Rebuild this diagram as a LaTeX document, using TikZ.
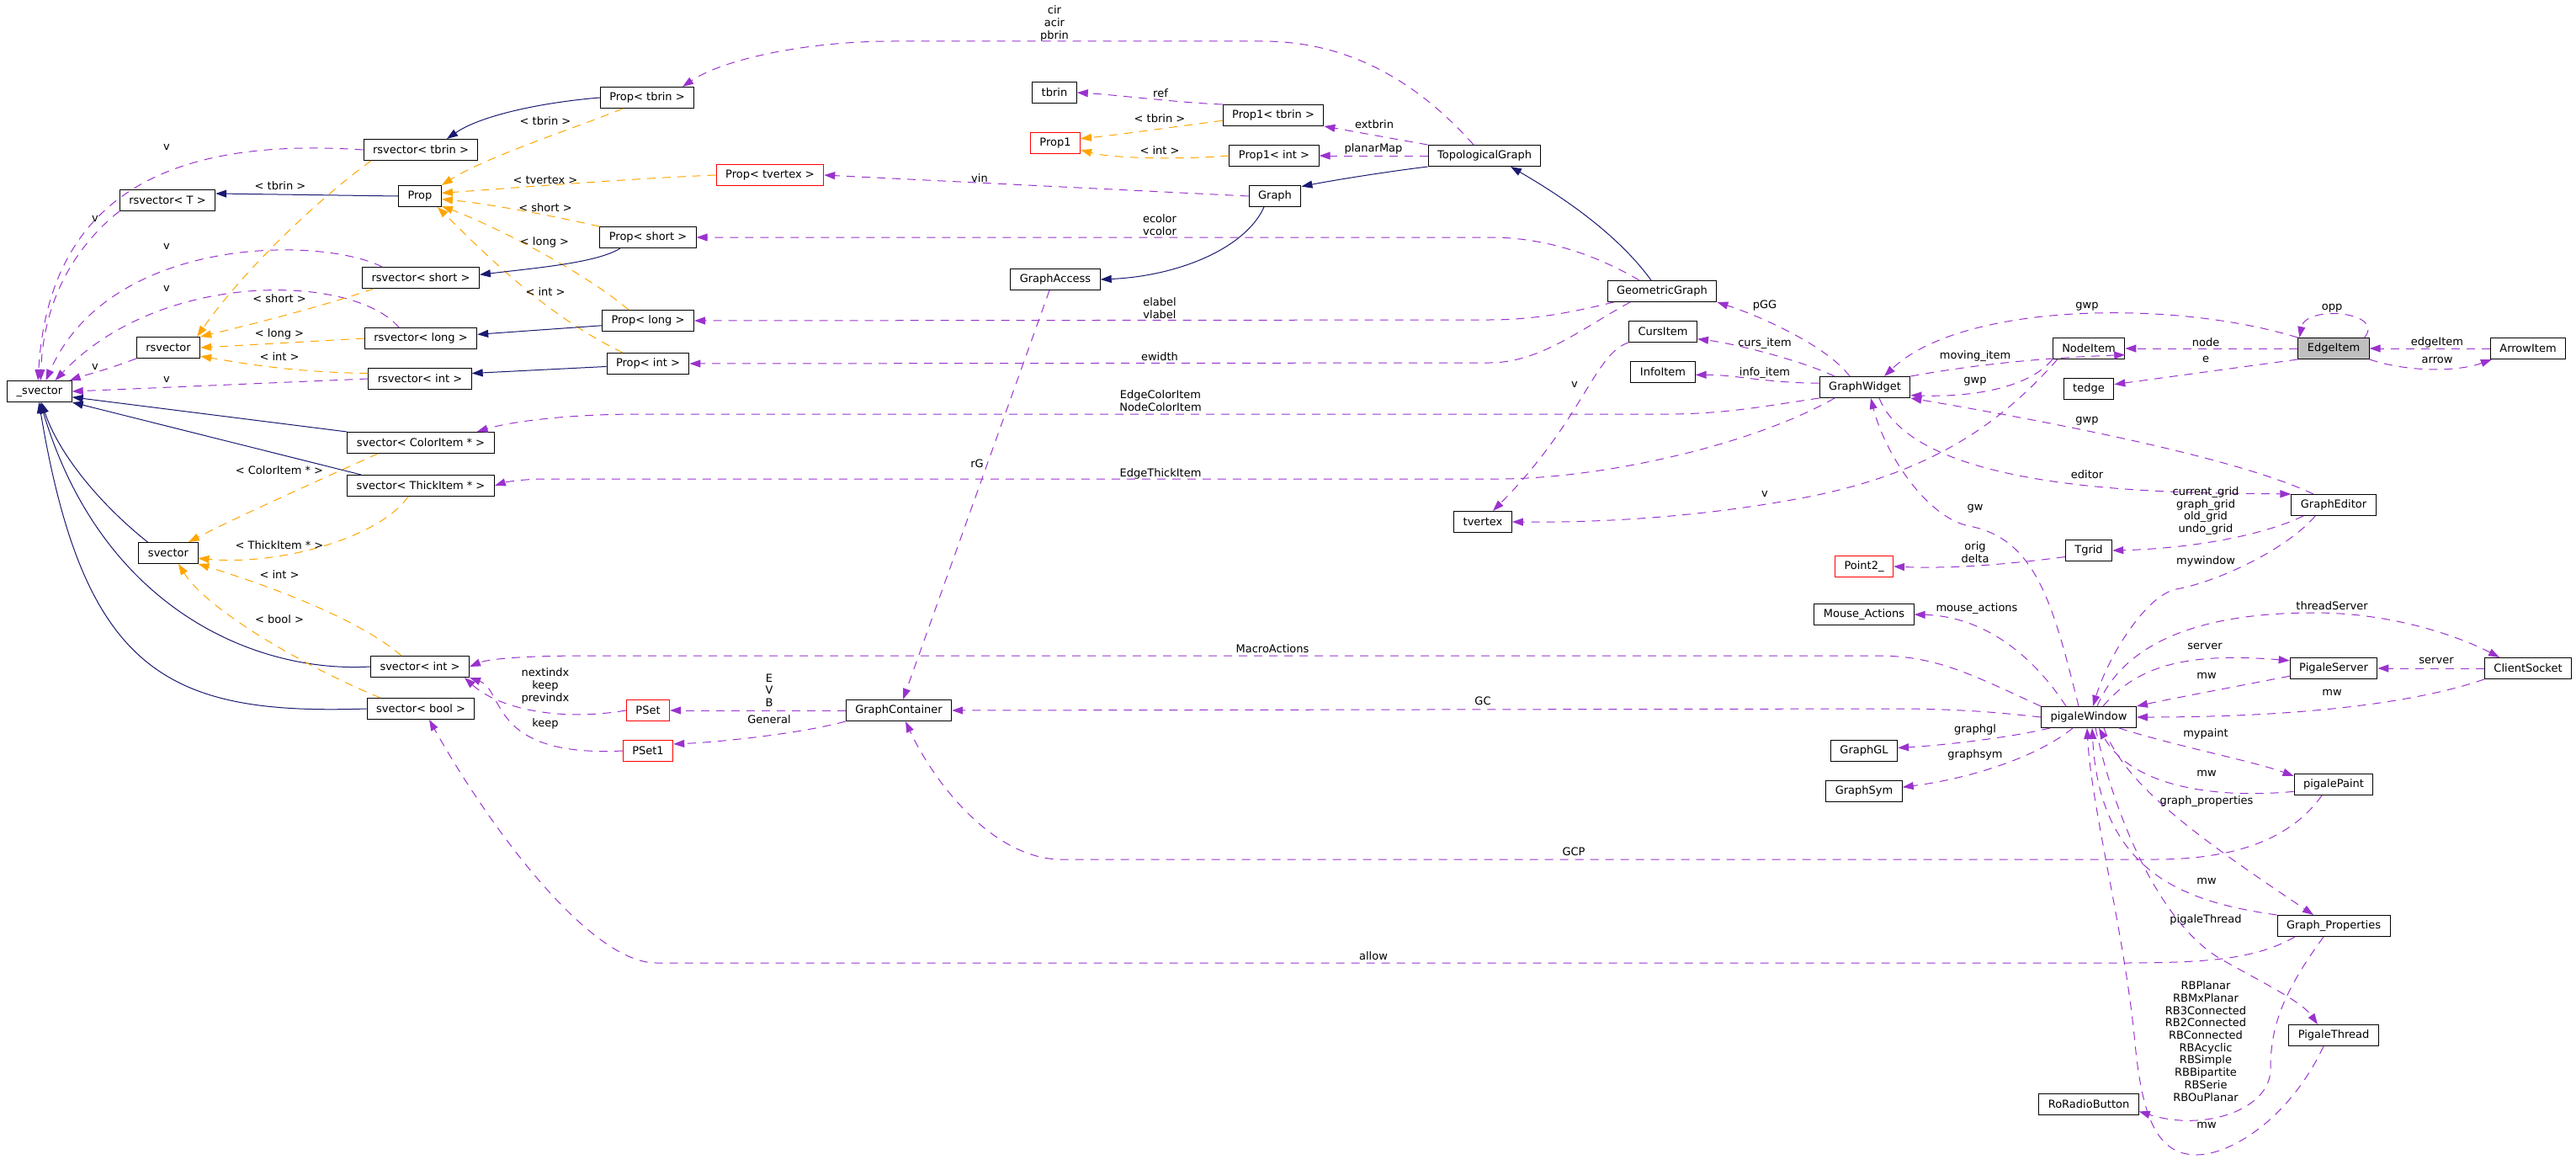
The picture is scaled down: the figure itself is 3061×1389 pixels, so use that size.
\documentclass[tikz,border=0pt]{standalone}
\usepackage{fontspec}
\setmainfont{DejaVu Sans}
\usetikzlibrary{arrows.meta}
\definecolor{usepurple}{RGB}{154,50,205}
\definecolor{inhblue}{RGB}{25,25,112}
\definecolor{tmplorange}{RGB}{255,165,0}
\newcommand{\dfont}{\fontsize{13}{14.7}\selectfont}

\begin{document}
\begin{tikzpicture}[x=1pt,y=-1pt,
    classbox/.style={draw=black,line width=1pt,minimum height=25pt,
                     inner xsep=11pt,inner ysep=0pt,font=\dfont},
    redbox/.style={classbox,draw=red},
    curbox/.style={classbox,fill=black!25},
    usesarr/.style={draw=usepurple,line width=1pt,dash pattern=on 10pt off 8pt,
                    -{Triangle[length=13pt,width=9pt]}},
    inharr/.style={draw=inhblue,line width=1pt,-{Triangle[length=13pt,width=9pt]}},
    tmplarr/.style={draw=tmplorange,line width=1pt,dash pattern=on 10pt off 8pt,
                    -{Triangle[length=13pt,width=9pt]}},
    elabel/.style={font=\dfont,align=center,inner sep=0pt,text=black}
  ]
  \useasboundingbox (0,0) rectangle (3061,1389);

  %% ── Base templates ────────────────────────────────────────────────────────
  \node[classbox] (svec) at (47,465)  {\_svector};
  \node[classbox] (rsvT) at (199,238) {rsvector< T >};
  \node[classbox] (rsv)  at (200,413) {rsvector};
  \node[classbox] (svc)  at (200,657) {svector};

  %% ── Template instances ────────────────────────────────────────────────────
  \node[classbox] (rsvtbrin)  at (500,178) {rsvector< tbrin >};
  \node[classbox] (rsvshort)  at (500,330) {rsvector< short >};
  \node[classbox] (rsvlong)   at (500,402) {rsvector< long >};
  \node[classbox] (rsvint)    at (499,450) {rsvector< int >};
  \node[classbox] (svcolor)   at (500,526) {svector< ColorItem * >};
  \node[classbox] (svthick)   at (500,577) {svector< ThickItem * >};
  \node[classbox] (svint)     at (499,792) {svector< int >};
  \node[classbox] (svbool)    at (500,842) {svector< bool >};
  \node[classbox] (prop)      at (499,233) {Prop};
  \node[classbox] (proptbrin) at (769,116) {Prop< tbrin >};
  \node[classbox] (propshort) at (770,282) {Prop< short >};
  \node[classbox] (proplong)  at (770,381) {Prop< long >};
  \node[classbox] (propint)   at (770,432) {Prop< int >};
  \node[redbox]   (pset)      at (770,844) {PSet};
  \node[redbox]   (pset1)     at (770,892) {PSet1};
  \node[redbox]   (proptvertex) at (915,208) {Prop< tvertex >};

  %% ── Graph classes ─────────────────────────────────────────────────────────
  \node[classbox] (gcont)      at (1068,844) {GraphContainer};
  \node[classbox] (gaccess)    at (1254,332) {GraphAccess};
  \node[classbox] (tbrin)      at (1253,110) {tbrin};
  \node[redbox]   (prop1)      at (1254,170) {Prop1};
  \node[classbox] (prop1tbrin) at (1513,137) {Prop1< tbrin >};
  \node[classbox] (prop1int)   at (1514,185) {Prop1< int >};
  \node[classbox] (graph)      at (1515,233) {Graph};
  \node[classbox] (topo)       at (1764,185) {TopologicalGraph};
  \node[classbox] (tvertex)    at (1762,620) {tvertex};
  \node[classbox] (geom)       at (1975,346) {GeometricGraph};
  \node[classbox] (curs)       at (1976,394) {CursItem};
  \node[classbox] (info)       at (1976,442) {InfoItem};

  %% ── GUI classes ───────────────────────────────────────────────────────────
  \node[classbox] (gwidget)   at (2216,460)  {GraphWidget};
  \node[redbox]   (point)     at (2215,673)  {Point2\_};
  \node[classbox] (mouse)     at (2215,730)  {Mouse\_Actions};
  \node[classbox] (ggl)       at (2215,892)  {GraphGL};
  \node[classbox] (gsym)      at (2215,940)  {GraphSym};
  \node[classbox] (nodeitem)  at (2482,414)  {NodeItem};
  \node[classbox] (tedge)     at (2482,462)  {tedge};
  \node[classbox] (tgrid)     at (2482,654)  {Tgrid};
  \node[classbox] (pwin)      at (2482,852)  {pigaleWindow};
  \node[classbox] (radio)     at (2482,1312) {RoRadioButton};
  \node[curbox]   (edgeitem)  at (2773,414)  {EdgeItem};
  \node[classbox] (geditor)   at (2773,600)  {GraphEditor};
  \node[classbox] (pserver)   at (2773,794)  {PigaleServer};
  \node[classbox] (ppaint)    at (2773,932)  {pigalePaint};
  \node[classbox] (gprop)     at (2773,1100) {Graph\_Properties};
  \node[classbox] (pthread)   at (2773,1230) {PigaleThread};
  \node[classbox] (arrowitem) at (3004,414)  {ArrowItem};
  \node[classbox] (client)    at (3004,794)  {ClientSocket};

  %% ── rsvector members -> _svector ──────────────────────────────────────────
  \draw[usesarr] (rsvtbrin.west) .. controls (250,166) and (60,200) .. (svec.98)
      node[elabel] at (198,175) {v};
  \draw[usesarr] (rsvT.south west) .. controls (105,280) and (52,340) .. (svec.84)
      node[elabel] at (113,260) {v};
  \draw[usesarr] ([xshift=24pt]rsvshort.north west) .. controls (380,280) and (130,280) .. (svec.60)
      node[elabel] at (198,293) {v};
  \draw[usesarr] ([xshift=-26pt]rsvlong.north) .. controls (420,325) and (190,320) .. (svec.35)
      node[elabel] at (198,343) {v};
  \draw[usesarr] (rsv.south west) .. controls (125,440) and (100,446) .. (svec.20)
      node[elabel] at (113,436) {v};
  \draw[usesarr] (rsvint.west) -- (svec.east)
      node[elabel] at (198,451) {v};

  %% ── rsvector instances ────────────────────────────────────────────────────
  \draw[tmplarr] ([xshift=-59pt]rsvtbrin.south) .. controls (380,235) and (290,320) .. ([xshift=-4pt]rsv.north east)
      node[elabel] at (333,221) {< tbrin >};
  \draw[tmplarr] ([xshift=14pt]rsvshort.south west) .. controls (380,365) and (300,385) .. (rsv.north east)
      node[elabel] at (332,355) {< short >};
  \draw[tmplarr] (rsvlong.west) -- (rsv.east)
      node[elabel] at (332,397) {< long >};
  \draw[tmplarr] (rsvint.174) .. controls (340,442) and (280,430) .. (rsv.-15)
      node[elabel] at (332,424) {< int >};

  %% ── Prop instances ────────────────────────────────────────────────────────
  \draw[tmplarr] ([xshift=-29pt]proptbrin.south) .. controls (690,150) and (580,185) .. (prop.north east)
      node[elabel] at (648,144) {< tbrin >};
  \draw[tmplarr] (proptvertex.west) .. controls (750,212) and (600,224) .. (prop.8)
      node[elabel] at (648,214) {< tvertex >};
  \draw[tmplarr] (propshort.north west) .. controls (650,255) and (580,242) .. (prop.-8)
      node[elabel] at (648,247) {< short >};
  \draw[tmplarr] ([xshift=-23pt]proplong.north) .. controls (690,320) and (580,265) .. (prop.-25)
      node[elabel] at (647,288) {< long >};
  \draw[tmplarr] ([xshift=-30pt]propint.north) .. controls (650,375) and (585,310) .. (prop.-32)
      node[elabel] at (648,347) {< int >};

  %% ── Inheritance ───────────────────────────────────────────────────────────
  \draw[inharr] (proptbrin.west) .. controls (640,122) and (570,138) .. ([xshift=31pt]rsvtbrin.north);
  \draw[inharr] (prop.west) -- (rsvT.8);
  \draw[inharr] ([xshift=-33pt]propshort.south) .. controls (710,312) and (640,318) .. (rsvshort.3);
  \draw[inharr] (proplong.186) -- (rsvlong.4);
  \draw[inharr] (propint.184) -- (rsvint.6);
  \draw[inharr] (svcolor.north west) -- (svec.-10);
  \draw[inharr] ([xshift=17pt]svthick.north west) -- (svec.south east);
  \draw[inharr] ([xshift=11pt]svc.north west) .. controls (120,600) and (70,540) .. (svec.-80);
  \draw[inharr] (svint.west) .. controls (300,800) and (120,720) .. (svec.-86);
  \draw[inharr] (svbool.west) .. controls (200,850) and (100,800) .. (svec.-93);

  %% ── svector instances ─────────────────────────────────────────────────────
  \draw[tmplarr] ([xshift=-51pt]svcolor.south) .. controls (380,570) and (280,615) .. ([xshift=24pt]svc.north)
      node[elabel] at (332,559) {< ColorItem * >};
  \draw[tmplarr] ([xshift=-15pt]svthick.south) .. controls (450,640) and (330,672) .. (svc.-10)
      node[elabel] at (332,648) {< ThickItem * >};
  \draw[tmplarr] ([xshift=-22pt]svint.north) .. controls (420,730) and (300,690) .. (svc.-20)
      node[elabel] at (332,683) {< int >};
  \draw[tmplarr] ([xshift=-48pt]svbool.north) .. controls (380,800) and (250,730) .. ([xshift=12pt]svc.south)
      node[elabel] at (332,736) {< bool >};

  %% ── GraphContainer ────────────────────────────────────────────────────────
  \draw[usesarr] (pset.west) .. controls (660,858) and (590,840) .. ([xshift=-6pt]svint.south east)
      node[elabel] at (648,815) {nextindx\\keep\\previndx};
  \draw[usesarr] (pset1.west) .. controls (580,900) and (600,820) .. (svint.south east)
      node[elabel] at (648,860) {keep};
  \draw[usesarr] (gcont.west) -- (pset.east)
      node[elabel] at (914,820) {E\\V\\B};
  \draw[usesarr] (gcont.south west) .. controls (950,872) and (850,882) .. (pset1.15)
      node[elabel] at (914,855) {General};
  \draw[usesarr] ([xshift=-7pt]gaccess.south) -- ([xshift=5pt]gcont.north)
      node[elabel] at (1161,551) {rG};
  \draw[usesarr] (pwin.north west) .. controls (2340,800) and (2300,779) .. (2230,779)
      -- (700,779) .. controls (620,779) and (580,783) .. (svint.east)
      node[elabel] at (1512,771) {MacroActions};
  \draw[usesarr] (pwin.west) .. controls (2380,847) and (2330,842) .. (2250,842) -- (gcont.east)
      node[elabel] at (1762,833) {GC};
  \draw[usesarr] ([xshift=-14pt]ppaint.south) .. controls (2720,1000) and (2650,1021) .. (2560,1021)
      -- (1260,1021) .. controls (1180,1020) and (1110,930) .. ([xshift=8pt]gcont.south)
      node[elabel] at (1870,1012) {GCP};
  \draw[usesarr] ([xshift=-46pt]gprop.south) .. controls (2680,1140) and (2620,1144) .. (2520,1144)
      -- (780,1144) .. controls (700,1144) and (580,980) .. ([xshift=10pt]svbool.south)
      node[elabel] at (1632,1136) {allow};

  %% ── Graph hierarchy ───────────────────────────────────────────────────────
  \draw[usesarr] (graph.west) -- (proptvertex.east)
      node[elabel] at (1164,212) {vin};
  \draw[inharr] ([xshift=-13pt]graph.south) .. controls (1480,295) and (1400,328) .. (gaccess.east);
  \draw[inharr] (topo.south west) .. controls (1640,205) and (1580,215) .. (graph.20);
  \draw[inharr] ([xshift=-13pt]geom.north) .. controls (1920,275) and (1850,230) .. ([xshift=31pt]topo.south);
  \draw[usesarr] ([xshift=-27pt]geom.north) .. controls (1900,305) and (1840,282) .. (1770,282) -- (propshort.east)
      node[elabel] at (1378,267) {ecolor\\vcolor};
  \draw[usesarr] ([xshift=8pt]geom.south west) .. controls (1880,368) and (1830,380) .. (1770,380) -- (proplong.east)
      node[elabel] at (1378,366) {elabel\\vlabel};
  \draw[usesarr] ([xshift=-38pt]geom.south) .. controls (1880,390) and (1830,431) .. (1770,431) -- (propint.east)
      node[elabel] at (1378,424) {ewidth};
  \draw[usesarr] (topo.north west) -- (prop1tbrin.south east)
      node[elabel] at (1633,148) {extbrin};
  \draw[usesarr] (topo.west) -- (prop1int.east)
      node[elabel] at (1632,177) {planarMap};
  \draw[usesarr] ([xshift=-13pt]topo.north) .. controls (1700,115) and (1620,49) .. (1500,49)
      -- (1060,49) .. controls (960,49) and (860,70) .. ([xshift=42pt]proptbrin.north)
      node[elabel] at (1253,28) {cir\\acir\\pbrin};
  \draw[usesarr] (prop1tbrin.north west) .. controls (1400,122) and (1330,113) .. (tbrin.east)
      node[elabel] at (1379,111) {ref};
  \draw[tmplarr] (prop1tbrin.186) .. controls (1400,150) and (1330,160) .. (prop1.10)
      node[elabel] at (1378,141) {< tbrin >};
  \draw[tmplarr] (prop1int.west) .. controls (1400,190) and (1320,188) .. (prop1.-15)
      node[elabel] at (1378,179) {< int >};

  %% ── GraphWidget ───────────────────────────────────────────────────────────
  \draw[usesarr] ([xshift=-18pt]gwidget.north) .. controls (2170,410) and (2090,375) .. (geom.south east)
      node[elabel] at (2097,363) {pGG};
  \draw[usesarr] ([xshift=-36pt]gwidget.north) .. controls (2140,428) and (2060,408) .. (curs.-12)
      node[elabel] at (2097,408) {curs\_item};
  \draw[usesarr] (gwidget.175) .. controls (2100,455) and (2060,445) .. (info.-5)
      node[elabel] at (2097,443) {info\_item};
  \draw[usesarr] (curs.south west) .. controls (1895,420) and (1880,500) .. ([xshift=12pt]tvertex.north)
      node[elabel] at (1871,457) {v};
  \draw[usesarr] (gwidget.south west) .. controls (2100,482) and (2050,492) .. (1980,492)
      -- (760,492) .. controls (680,492) and (610,500) .. ([xshift=-21pt]svcolor.north east)
      node[elabel] at (1379,476) {EdgeColorItem\\NodeColorItem};
  \draw[usesarr] ([xshift=-36pt]gwidget.south) .. controls (2080,530) and (1900,569) .. (1780,569)
      -- (650,569) .. controls (620,569) and (600,573) .. (svthick.east)
      node[elabel] at (1379,563) {EdgeThickItem};
  \draw[usesarr] (gwidget.north east) .. controls (2320,438) and (2400,426) .. (nodeitem.-10)
      node[elabel] at (2347,423) {moving\_item};
  \draw[usesarr] (nodeitem.south west) .. controls (2410,462) and (2340,472) .. (gwidget.-10)
      node[elabel] at (2347,453) {gwp};
  \draw[usesarr] (edgeitem.north west) .. controls (2580,355) and (2330,360) .. ([xshift=23pt]gwidget.north)
      node[elabel] at (2480,364) {gwp};
  \draw[usesarr] ([xshift=-24pt]geditor.north) .. controls (2650,540) and (2400,495) .. (gwidget.south east)
      node[elabel] at (2480,500) {gwp};
  \draw[usesarr] ([xshift=17pt]gwidget.south) .. controls (2280,590) and (2600,585) .. (geditor.north west)
      node[elabel] at (2480,564) {editor};
  \draw[usesarr] ([xshift=6pt]nodeitem.south west) .. controls (2380,500) and (2300,560) .. (2150,590)
      .. controls (2020,615) and (1900,621) .. (tvertex.east)
      node[elabel] at (2097,587) {v};

  %% ── EdgeItem ──────────────────────────────────────────────────────────────
  \draw[usesarr] (edgeitem.west) -- (nodeitem.east)
      node[elabel] at (2621,407) {node};
  \draw[usesarr] (edgeitem.south west) -- (tedge.10)
      node[elabel] at (2621,427) {e};
  \draw[usesarr] ([xshift=-6pt]edgeitem.north east) .. controls (2835,370) and (2740,362) .. ([xshift=2pt]edgeitem.north west)
      node[elabel] at (2771,366) {opp};
  \draw[usesarr] (arrowitem.west) -- (edgeitem.east)
      node[elabel] at (2896,407) {edgeItem};
  \draw[usesarr] (edgeitem.south east) .. controls (2860,442) and (2920,442) .. ([xshift=2pt]arrowitem.south west)
      node[elabel] at (2896,428) {arrow};

  %% ── GraphEditor ───────────────────────────────────────────────────────────
  \draw[usesarr] ([xshift=-36pt]geditor.south) .. controls (2680,640) and (2590,652) .. (tgrid.east)
      node[elabel] at (2621,607) {current\_grid\\graph\_grid\\old\_grid\\undo\_grid};
  \draw[usesarr] (tgrid.195) .. controls (2390,670) and (2320,676) .. (point.east)
      node[elabel] at (2347,656) {orig\\delta};
  \draw[usesarr] ([xshift=-22pt]geditor.south) .. controls (2720,650) and (2640,690) .. (2586,700)
      .. controls (2550,707) and (2505,780) .. ([xshift=5pt]pwin.north)
      node[elabel] at (2621,667) {mywindow};

  %% ── pigaleWindow ──────────────────────────────────────────────────────────
  \draw[usesarr] ([xshift=-12pt]pwin.north) .. controls (2440,720) and (2420,640) .. (2340,625)
      .. controls (2290,615) and (2240,540) .. ([xshift=7pt]gwidget.south)
      node[elabel] at (2347,604) {gw};
  \draw[usesarr] ([xshift=-27pt]pwin.north) .. controls (2410,770) and (2350,732) .. (mouse.east)
      node[elabel] at (2349,723) {mouse\_actions};
  \draw[usesarr] ([xshift=-46pt]pwin.south) .. controls (2380,878) and (2300,886) .. (ggl.5)
      node[elabel] at (2347,867) {graphgl};
  \draw[usesarr] ([xshift=-19pt]pwin.south) .. controls (2420,900) and (2340,925) .. (gsym.6)
      node[elabel] at (2347,897) {graphsym};
  \draw[usesarr] ([xshift=17pt]pwin.north) .. controls (2540,790) and (2600,775) .. (pserver.170)
      node[elabel] at (2620,768) {server};
  \draw[usesarr] (pserver.-170) .. controls (2660,815) and (2580,830) .. (pwin.north east)
      node[elabel] at (2622,803) {mw};
  \draw[usesarr] ([xshift=10pt]pwin.north) .. controls (2525,760) and (2620,728) .. (2750,728)
      .. controls (2850,728) and (2930,760) .. ([xshift=-34pt]client.north)
      node[elabel] at (2771,720) {threadServer};
  \draw[usesarr] (client.west) -- (pserver.east)
      node[elabel] at (2895,785) {server};
  \draw[usesarr] (client.south west) .. controls (2880,832) and (2750,852) .. (pwin.east)
      node[elabel] at (2771,823) {mw};
  \draw[usesarr] ([xshift=36pt]pwin.south) .. controls (2580,885) and (2680,905) .. (ppaint.168)
      node[elabel] at (2621,872) {mypaint};
  \draw[usesarr] (ppaint.-170) .. controls (2620,950) and (2530,930) .. ([xshift=12pt]pwin.south)
      node[elabel] at (2622,919) {mw};
  \draw[usesarr] ([xshift=18pt]pwin.south) .. controls (2525,935) and (2620,1000) .. ([xshift=-24pt]gprop.north)
      node[elabel] at (2622,952) {graph\_properties};
  \draw[usesarr] (gprop.north west) .. controls (2600,1072) and (2495,1040) .. ([xshift=4pt]pwin.south)
      node[elabel] at (2622,1047) {mw};
  \draw[usesarr] ([xshift=8pt]pwin.south) .. controls (2515,980) and (2570,1100) .. (2640,1140)
      .. controls (2690,1168) and (2735,1190) .. ([xshift=-19pt]pthread.north)
      node[elabel] at (2621,1093) {pigaleThread};
  \draw[usesarr] ([xshift=-12pt]pthread.south) .. controls (2720,1330) and (2650,1372) .. (2610,1372)
      .. controls (2560,1372) and (2545,1320) .. (2537,1240)
      .. controls (2525,1110) and (2485,960) .. ([xshift=-2pt]pwin.south)
      node[elabel] at (2622,1337) {mw};
  \draw[usesarr] ([xshift=-12pt]gprop.south) .. controls (2712,1180) and (2698,1220) .. (2698,1270)
      .. controls (2698,1318) and (2620,1345) .. (radio.-8)
      node[elabel] at (2621,1237) {RBPlanar\\RBMxPlanar\\RB3Connected\\RB2Connected\\RBConnected\\RBAcyclic\\RBSimple\\RBBipartite\\RBSerie\\RBOuPlanar};

\end{tikzpicture}
\end{document}
